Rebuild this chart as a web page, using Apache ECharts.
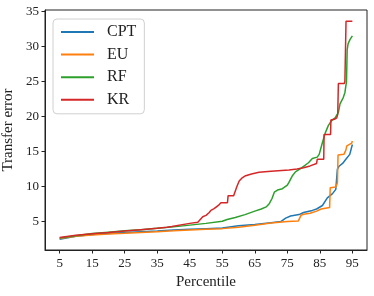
<!DOCTYPE html>
<html>
<head>
<meta charset="utf-8">
<script src="https://cdn.jsdelivr.net/npm/echarts@6/dist/echarts.min.js"></script>
<style>html,body{margin:0;padding:0;background:#fff}#c{width:374px;height:296px}</style>
</head>
<body>
<div id="c"></div>
<script>
const xTicks = [5, 15, 25, 35, 45, 55, 65, 75, 85, 95];
const yTicks = [5, 10, 15, 20, 25, 30, 35];

const cptX = [5, 10, 15, 20, 25, 30, 35, 40, 45, 50, 55, 60, 65, 70, 73, 74.5, 76, 78.6, 80, 82.7, 84, 85.8, 87.3, 88.9, 89.9, 90.4, 90.9, 92, 93, 94.2, 94.8, 95];
const cptY = [2.5, 2.9, 3.15, 3.3, 3.43, 3.55, 3.67, 3.8, 3.9, 4.0, 4.1, 4.4, 4.6, 4.85, 5.0, 5.5, 5.8, 6.0, 6.3, 6.6, 6.8, 7.3, 8.4, 9.0, 9.6, 12.5, 12.9, 13.3, 13.9, 14.6, 14.8, 16.0];

const euX = [5, 10, 15, 20, 25, 30, 35, 40, 45, 50, 55, 60, 65, 70, 75, 78.4, 79.2, 80, 82, 84, 85.4, 86, 88, 88.2, 89.9, 90.4, 90.6, 92.4, 93, 93.3, 94.8, 95];
const euY = [2.6, 2.9, 3.1, 3.22, 3.33, 3.45, 3.57, 3.68, 3.8, 3.9, 4.0, 4.2, 4.48, 4.8, 5.0, 5.1, 5.9, 6.05, 6.2, 6.5, 6.8, 7.0, 7.0, 9.85, 9.95, 10.5, 14.5, 14.6, 15.2, 15.8, 16.2, 16.5];

const rfX = [5, 10, 15, 20, 25, 30, 35, 40, 45, 50, 55, 56.5, 59, 62, 65, 67, 68.5, 69.5, 70.3, 71, 72, 73.5, 75, 75.5, 76.5, 77.5, 79.5, 81.5, 82.7, 84.2, 84.8, 85.8, 86.7, 87.6, 88.6, 89.7, 90.7, 91.2, 92.2, 92.7, 93.2, 93.4, 93.7, 94.3, 95];
const rfY = [2.65, 3.0, 3.3, 3.5, 3.7, 3.85, 4.05, 4.25, 4.5, 4.75, 5.05, 5.3, 5.6, 6.0, 6.5, 6.8, 7.1, 7.6, 8.3, 9.2, 9.5, 9.7, 10.2, 10.6, 11.5, 12.1, 12.7, 13.4, 14.0, 14.2, 14.6, 16.3, 17.7, 18.7, 19.4, 19.8, 20.6, 21.8, 22.7, 23.4, 25.0, 29.5, 30.4, 31.0, 31.5];

const krX = [5, 10, 15, 20, 25, 30, 35, 38, 39.5, 40, 45, 47.5, 48, 49, 50, 51, 51.5, 52.5, 54, 54.6, 56.6, 56.8, 58.5, 59, 59.5, 60.2, 61, 62.2, 64, 66.3, 70, 75.5, 78, 80, 82, 84, 84.2, 86.2, 86.3, 88.3, 88.4, 89.5, 90.2, 90.5, 90.7, 92.5, 92.7, 93, 93.05, 95];
const krY = [2.75, 3.05, 3.28, 3.45, 3.65, 3.85, 4.05, 4.2, 4.3, 4.5, 4.75, 4.9, 5.1, 5.7, 5.9, 6.3, 6.6, 6.85, 7.4, 7.7, 7.7, 8.7, 8.7, 8.8, 10.0, 10.8, 11.2, 11.55, 11.8, 12.05, 12.2, 12.36, 12.5, 12.7, 12.95, 13.3, 13.9, 13.9, 17.45, 17.45, 19.5, 19.6, 19.8, 20.3, 24.7, 24.7, 25.0, 25.0, 33.6, 33.6];

const names = ['CPT', 'EU', 'RF', 'KR'];
const colors = ['#1f77b4', '#ff7f0e', '#2ca02c', '#d62728'];
const xs = [cptX, euX, rfX, krX];
const ys = [cptY, euY, rfY, krY];

const FONT = 'Liberation Serif';
const chart = echarts.init(document.getElementById('c'), null, {renderer: 'canvas'});
chart.setOption({
  animation: false,
  backgroundColor: '#fff',
  grid: {left: 45, right: 7, top: 10, bottom: 46, outerBoundsMode: 'none', containLabel: false, show: true, borderColor: '#222', borderWidth: 1, backgroundColor: 'transparent'},
  legend: {
    orient: 'vertical', left: 53, top: 19,
    padding: [5, 8, 6, 7],
    itemWidth: 33, itemHeight: 14, itemGap: 6.6,
    itemStyle: {opacity: 0},
    borderColor: '#d0d0d0', borderWidth: 1, borderRadius: 4, backgroundColor: 'rgba(255,255,255,0.8)',
    textStyle: {fontFamily: FONT, fontSize: 16, color: '#222', padding: [0, 0, 0, 8]},
    data: names
  },
  xAxis: {
    type: 'value', min: 0.5, max: 99.5,
    name: 'Percentile', nameLocation: 'middle', nameGap: 24,
    nameTextStyle: {fontFamily: FONT, fontSize: 15, color: '#222'},
    axisLine: {show: true, lineStyle: {color: '#222', width: 1}},
    axisTick: {show: true, length: 3.5, lineStyle: {color: '#222'}, customValues: xTicks},
    axisLabel: {fontFamily: FONT, fontSize: 13, color: '#222', margin: 7, customValues: xTicks},
    splitLine: {show: false}
  },
  yAxis: {
    type: 'value', min: 0.95, max: 35.2,
    name: 'Transfer error', nameLocation: 'middle', nameGap: 22, nameRotate: 90,
    nameTextStyle: {fontFamily: FONT, fontSize: 15, color: '#222'},
    axisLine: {show: true, lineStyle: {color: '#222', width: 1}},
    axisTick: {show: true, length: 3.5, lineStyle: {color: '#222'}, customValues: yTicks},
    axisLabel: {fontFamily: FONT, fontSize: 13, color: '#222', margin: 6, customValues: yTicks},
    splitLine: {show: false}
  },
  series: names.map((n, i) => ({
    name: n, type: 'line', symbol: 'none', showSymbol: false,
    color: colors[i],
    lineStyle: {color: colors[i], width: 1.5},
    data: xs[i].map((x, j) => [x, ys[i][j]])
  }))
});
</script>
</body>
</html>
